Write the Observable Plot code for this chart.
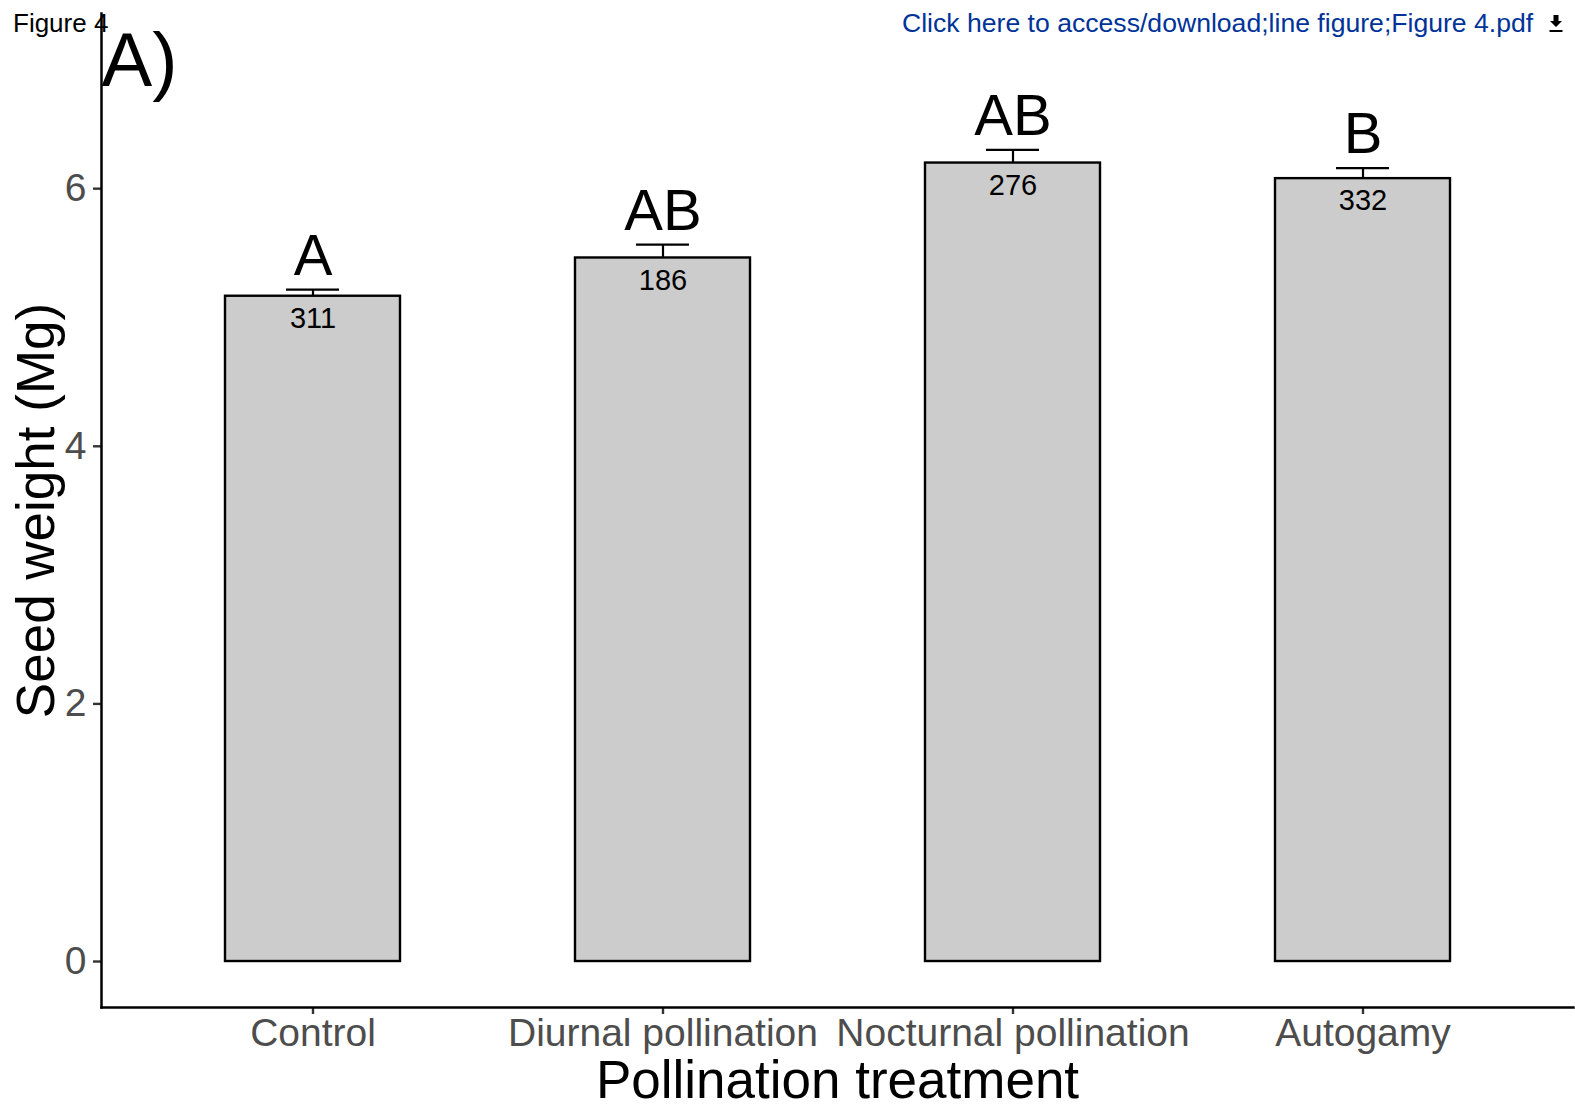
<!DOCTYPE html>
<html>
<head>
<meta charset="utf-8">
<script src="https://cdn.jsdelivr.net/npm/d3@7"></script>
<script src="https://cdn.jsdelivr.net/npm/@observablehq/plot@0.6"></script>
<style>
  html, body { margin: 0; padding: 0; background: #fff; }
  body { font-family: "Liberation Sans", Arial, sans-serif; }
  #wrap { position: relative; width: 1575px; height: 1108px; overflow: hidden; }
  #chart { position: absolute; left: 0; top: 0; }
  .hdr { position: absolute; font-size: 26.6px; line-height: 26px; white-space: nowrap; }
  #fig { left: 13px; top: 10px; color: #000; font-size: 26px; }
  #link { left: 902px; top: 10px; color: #003399; }
  #dl { position: absolute; left: 1548px; top: 13px; }
</style>
</head>
<body>
<div id="wrap">
  <div id="chart"></div>
  <div id="fig" class="hdr">Figure 4</div>
  <div id="link" class="hdr">Click here to access/download;line figure;Figure 4.pdf</div>
  <svg id="dl" width="16" height="22" viewBox="0 0 16 22">
    <path d="M5.5 2 H10.5 V8 H14 L8 14 L2 8 H5.5 Z" fill="#000"/>
    <rect x="1.5" y="17" width="13" height="2" fill="#000"/>
  </svg>
</div>
<script>
// ---- data ----
const categories = ["Control", "Diurnal pollination", "Nocturnal pollination", "Autogamy"];
const means = [5.165, 5.462, 6.199, 6.078];
const ses = [0.052, 0.104, 0.103, 0.082];
const letters = ["A", "AB", "AB", "B"];
const counts = [311, 186, 276, 332];
const yTicks = [0, 2, 4, 6];
const xTitle = "Pollination treatment";
const yTitle = "Seed weight (Mg)";
const panelLabel = "A)";

const data = categories.map((c, i) => ({
  cat: c, mean: means[i], se: ses[i], letter: letters[i], n: counts[i]
}));

const font = "'Liberation Sans', Arial, sans-serif";

const chart = Plot.plot({
  width: 1575,
  height: 1108,
  marginLeft: 101,
  marginRight: 2,
  marginTop: 13,
  marginBottom: 101,
  style: { fontFamily: font, background: "transparent", overflow: "visible" },
  x: { domain: categories, paddingInner: 0.5, paddingOuter: 0.35, label: null },
  y: { domain: [-0.357, 7.36], label: null },
  marks: [
    Plot.ruleX(data, { x: "cat", y1: d => d.mean - d.se, y2: d => d.mean + d.se, stroke: "#000", strokeWidth: 2.2 }),
    Plot.tickY(data, { x: "cat", y: d => d.mean + d.se, stroke: "#000", strokeWidth: 2.2, inset: 61 }),
    Plot.barY(data, { x: "cat", y1: 0, y2: "mean", fill: "#cccccc", stroke: "#000", strokeWidth: 2.4 }),
    Plot.text(data, { x: "cat", y: "mean", text: d => String(d.n), lineAnchor: "top", dy: 11, fontSize: 29, fill: "#000" }),
    Plot.text(data, { x: "cat", y: d => d.mean + d.se, text: "letter", lineAnchor: "bottom", dy: -15, fontSize: 58, fill: "#000" }),
    Plot.axisY({ ticks: yTicks, tickFormat: d => String(d), tickSize: 8, tickPadding: 7, fontSize: 39, fill: "#4d4d4d", stroke: "#333", strokeWidth: 2.4, label: null }),
    Plot.axisX({ tickSize: 7, tickPadding: 4, fontSize: 39, fill: "#4d4d4d", stroke: "#333", strokeWidth: 2.4, label: null }),
    Plot.frame({ anchor: "left", stroke: "#000", strokeWidth: 2.5 }),
    Plot.frame({ anchor: "bottom", stroke: "#000", strokeWidth: 2.5 }),
    Plot.text([xTitle], { frameAnchor: "bottom", lineAnchor: "bottom", dy: 90, fontSize: 53, fill: "#000" }),
    Plot.text([yTitle], { frameAnchor: "left", rotate: -90, textAnchor: "middle", lineAnchor: "bottom", dx: -48, fontSize: 53, fill: "#000" }),
    Plot.text([panelLabel], { frameAnchor: "top-left", textAnchor: "start", lineAnchor: "bottom", dy: 72, fontSize: 76, fill: "#000" })
  ]
});
document.getElementById("chart").appendChild(chart);
</script>
</body>
</html>
